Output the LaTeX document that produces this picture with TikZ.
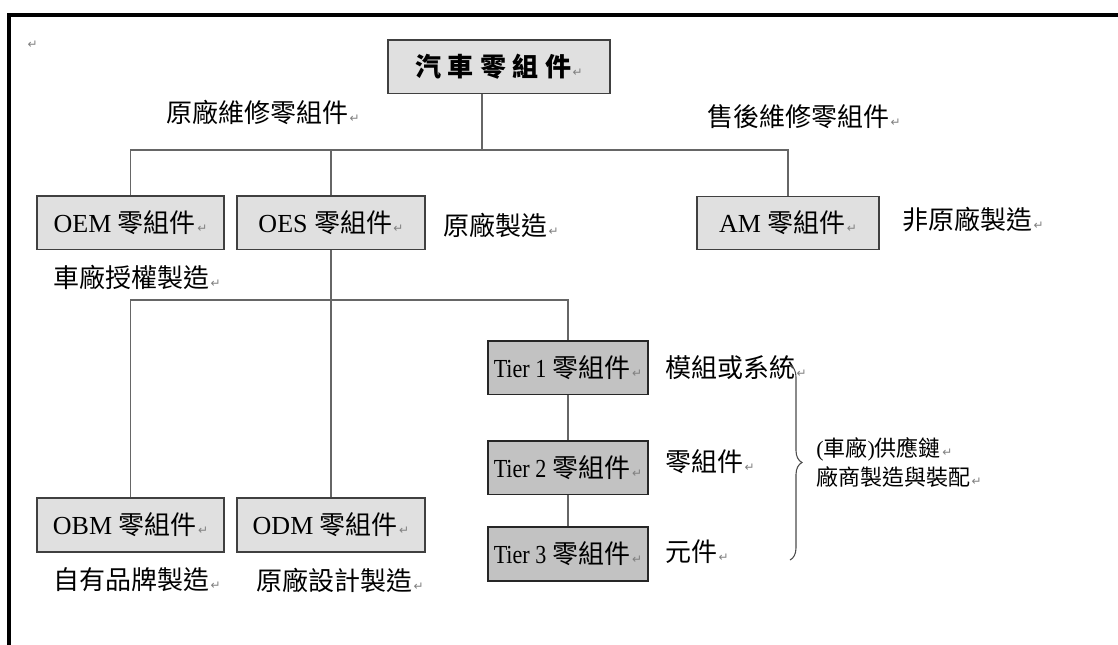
\documentclass[tikz,border=0pt]{standalone}
\usepackage{fontspec}
\setmainfont{Liberation Serif}
\newfontfamily\cjk{Noto Sans CJK TC}
\newfontfamily\cjkb{Noto Sans CJK TC}[LetterSpace=25]
\newfontfamily\dvs{DejaVu Sans}
\newfontfamily\tierf{Liberation Serif}[FakeStretch=0.85]
\usetikzlibrary{decorations.pathreplacing}
\newcommand\retm{\kern1pt{\dvs\fontsize{9}{9}\selectfont\color{black!50}↵}}
\begin{document}
\begin{tikzpicture}[x=0.75pt,y=-0.75pt,
  every node/.style={inner sep=0pt,font=\fontsize{19.5}{23}\selectfont},
  lbox/.style={draw=black!75,line width=1pt,fill=black!12,minimum height=40pt},
  tbox/.style={draw=black!85,line width=1pt,fill=black!24,minimum width=120pt,minimum height=40pt},
  lbl/.style={anchor=west},
  conn/.style={draw=black!60,line width=1.1pt}]
\useasboundingbox (0,0) rectangle (1118,644);
\clip (0,0) rectangle (1118,644);
\draw[line width=2.5pt] (9,660) -- (9,15) -- (1130,15);
\node (pm) at (32,45) {\retm};
% boxes
\node[lbox,minimum width=166.5pt] (top) at (499,66.5) {{\cjkb\bfseries 汽車零組件}\retm};
\node[lbox,minimum width=140.25pt] (oem) at (130.5,222.5) {OEM {\cjk 零組件}\retm};
\node[lbox,minimum width=141pt] (oes) at (331,222.5) {OES {\cjk 零組件}\retm};
\node[lbox,minimum width=136.5pt] (am) at (788,223) {AM {\cjk 零組件}\retm};
\node[tbox] (t1) at (568,367.5) {{\tierf Tier 1} {\cjk 零組件}\retm};
\node[tbox] (t2) at (568,467.5) {{\tierf Tier 2} {\cjk 零組件}\retm};
\node[tbox,minimum height=40.5pt] (t3) at (568,554) {{\tierf Tier 3} {\cjk 零組件}\retm};
\node[lbox,minimum width=140.25pt,minimum height=40.5pt] (obm) at (130.5,525) {OBM {\cjk 零組件}\retm};
\node[lbox,minimum width=141pt,minimum height=40.5pt] (odm) at (331,525) {ODM {\cjk 零組件}\retm};
% labels
\node[lbl] (l1) at (166,112) {\cjk 原廠維修零組件\retm};
\node[lbl] (l2) at (707,117) {\cjk 售後維修零組件\retm};
\node[lbl] (l3) at (443,225) {\cjk 原廠製造\retm};
\node[lbl] (l4) at (902,220) {\cjk 非原廠製造\retm};
\node[lbl] (l5) at (53,277) {\cjk 車廠授權製造\retm};
\node[lbl] (l6) at (665,368) {\cjk 模組或系統\retm};
\node[lbl] (l7) at (665,462) {\cjk 零組件\retm};
\node[lbl] (l8) at (665,552) {\cjk 元件\retm};
\node[lbl] (l9) at (53,580) {\cjk 自有品牌製造\retm};
\node[lbl] (l10) at (256,580) {\cjk 原廠設計製造\retm};
\node[lbl,align=left,font=\fontsize{16.5}{21.75}\selectfont\cjk] (sc) at (816,462.5)
  {\textrm{(}車廠\textrm{)}供應鏈\retm\\廠商製造與裝配\retm};
% connectors
\coordinate (j) at (482,150);
\coordinate (bus2) at (0,300);
\draw[conn] (top.south -| j) -- (j);
\draw[conn] (oem.north) -- (oem.north |- j) -- (am.north |- j) -- (am.north);
\draw[conn] (oes.north) -- (oes.north |- j);
\draw[conn] (oes.south) -- (odm.north);
\draw[conn] (obm.north) -- (obm.north |- bus2) -- (t1.north |- bus2) -- (t1.north);
\draw[conn] (t1.south) -- (t2.north);
\draw[conn] (t2.south) -- (t3.north);
% brace
\draw[decorate,decoration={brace,amplitude=9pt},draw=black!70,line width=0.8pt] (790,365) -- (790,560);
\end{tikzpicture}
\end{document}
